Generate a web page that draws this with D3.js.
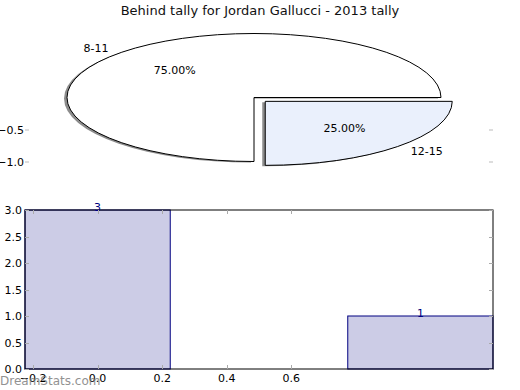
<!DOCTYPE html>
<html lang="en">
<head>
<meta charset="UTF-8">
<title>Behind tally</title>
<script src="https://cdnjs.cloudflare.com/ajax/libs/d3/7.8.5/d3.min.js"></script>
<style>
    body { margin: 0; background: #fff; }
    svg { display: block; font-family: "DejaVu Sans", sans-serif; }
</style>
</head>
<body>
<div id="wrap"></div>
<script>
    // data
    var title = 'Behind tally for Jordan Gallucci - 2013 tally';
    var pieLabels = ['8-11', '12-15'];
    var pieValues = [3, 1];
    var pieExplode = [0, 0.085];
    var pieColors = ['#ffffff', '#eaf0fc'];
    var pieYTicks = [-0.5, -1.0];

    var barX = [0, 1];
    var barValues = [3, 1];
    var xTicks = [-0.2, 0.0, 0.2, 0.4, 0.6];
    var yTicks = [0, 0.5, 1.0, 1.5, 2.0, 2.5, 3.0];

    var W = 520, H = 390;
    var svg = d3.select('#wrap').append('svg').attr('width', W).attr('height', H);
    var fmtMinus = function(v, f) { return d3.format(f)(v).replace('-', '\u2212'); };

    // title
    svg.append('text').attr('x', 260).attr('y', 15).attr('text-anchor', 'middle')
        .attr('font-size', 13).attr('fill', '#111').text(title);

    // ---- pie (squashed) ----
    var cx = 254, cy = 97.5;
    var px = d3.scaleLinear().domain([-1, 1]).range([cx - 187, cx + 187]);
    var py = d3.scaleLinear().domain([-1, 1]).range([cy + 64, cy - 64]);

    var pie = d3.pie().sort(null).startAngle(Math.PI / 2).endAngle(Math.PI / 2 - 2 * Math.PI);
    var arcs = pie(pieValues);
    var arc = d3.arc().innerRadius(0).outerRadius(1);
    var total = d3.sum(pieValues);

    var gPie = svg.append('g');
    // shadow first
    arcs.forEach(function(a, i) {
        var mid = (a.startAngle + a.endAngle) / 2;
        var ex = Math.sin(mid) * pieExplode[i], ey = Math.cos(mid) * pieExplode[i];
        gPie.append('path')
            .attr('d', arc(a))
            .attr('transform', 'translate(' + (px(ex) - 3) + ',' + (py(ey) + 1) + ') scale(187,64)')
            .attr('fill', '#7f7f7f').attr('opacity', 0.9);
    });
    arcs.forEach(function(a, i) {
        var mid = (a.startAngle + a.endAngle) / 2;
        var ex = Math.sin(mid) * pieExplode[i], ey = Math.cos(mid) * pieExplode[i];
        gPie.append('path')
            .attr('d', arc(a))
            .attr('transform', 'translate(' + px(ex) + ',' + py(ey) + ') scale(187,64)')
            .attr('fill', pieColors[i]).attr('stroke', '#000').attr('stroke-width', 1)
            .attr('vector-effect', 'non-scaling-stroke');
        var lx = ex + 1.1 * Math.sin(mid), ly = ey + 1.1 * Math.cos(mid);
        gPie.append('text').attr('x', px(lx)).attr('y', py(ly) + 4)
            .attr('text-anchor', lx < 0 ? 'end' : 'start')
            .attr('font-size', 11).attr('fill', '#000').text(pieLabels[i]);
        var tx = ex + 0.6 * Math.sin(mid), ty = ey + 0.6 * Math.cos(mid);
        gPie.append('text').attr('x', px(tx)).attr('y', py(ty) + 4)
            .attr('text-anchor', 'middle')
            .attr('font-size', 11).attr('fill', '#000')
            .text(d3.format('.2f')(pieValues[i] / total * 100) + '%');
    });
    // pie axis ticks
    pieYTicks.forEach(function(t) {
        var y = py(t) + 0.5;
        svg.append('line').attr('x1', 25).attr('x2', 29).attr('y1', y).attr('y2', y).attr('stroke', '#bbb');
        svg.append('line').attr('x1', 489).attr('x2', 493).attr('y1', y).attr('y2', y).attr('stroke', '#bbb');
        svg.append('text').attr('x', 24).attr('y', y + 4).attr('text-anchor', 'end')
            .attr('font-size', 11).attr('fill', '#000').text(fmtMinus(t, '.1f'));
    });

    // ---- bar chart ----
    var L = 25, R = 493, T = 210, B = 369;
    var x = d3.scaleLinear().domain([-0.225, 1.225]).range([L, R]);
    var y = d3.scaleLinear().domain([0, 3]).range([B, T]);
    var bw = 0.45;
    var gBar = svg.append('g');

    gBar.selectAll('rect.bar').data(barValues).enter().append('rect')
        .attr('class', 'bar')
        .attr('x', function(d, i) { return x(barX[i] - bw / 2); })
        .attr('y', function(d) { return y(d); })
        .attr('width', function(d, i) { return x(barX[i] + bw / 2) - x(barX[i] - bw / 2); })
        .attr('height', function(d) { return y(0) - y(d); })
        .attr('fill', '#ccccE6').attr('stroke', '#000080').attr('stroke-width', 1);

    // frame
    gBar.append('rect').attr('x', L).attr('y', T).attr('width', R - L).attr('height', B - T)
        .attr('fill', 'none').attr('stroke', '#000').attr('stroke-width', 1);

    gBar.selectAll('text.val').data(barValues).enter().append('text')
        .attr('x', function(d, i) { return x(barX[i]); })
        .attr('y', function(d) { return y(d) + 0.5; })
        .attr('text-anchor', 'middle').attr('font-size', 11).attr('fill', '#000080')
        .text(function(d) { return d; });

    // ticks
    yTicks.forEach(function(t) {
        var yy = Math.round(y(t)) + 0.5;
        gBar.append('line').attr('x1', L).attr('x2', L + 4).attr('y1', yy).attr('y2', yy).attr('stroke', '#aaa');
        gBar.append('line').attr('x1', R - 4).attr('x2', R).attr('y1', yy).attr('y2', yy).attr('stroke', '#aaa');
        gBar.append('text').attr('x', 22).attr('y', y(t) + 4).attr('text-anchor', 'end')
            .attr('font-size', 11).attr('fill', '#000').text(d3.format('.1f')(t));
    });
    xTicks.forEach(function(t) {
        var xx = Math.round(x(t)) + 0.5;
        gBar.append('line').attr('x1', xx).attr('x2', xx).attr('y1', B).attr('y2', B - 4).attr('stroke', '#aaa');
        gBar.append('line').attr('x1', xx).attr('x2', xx).attr('y1', T).attr('y2', T + 4).attr('stroke', '#aaa');
        gBar.append('text').attr('x', x(t)).attr('y', 382).attr('text-anchor', 'middle')
            .attr('font-size', 11).attr('fill', '#000').text(fmtMinus(t, '.1f'));
    });

    // watermark
    svg.append('text').attr('x', 0).attr('y', 385).attr('font-size', 12)
        .attr('fill', '#777').attr('opacity', 0.8).text('DreamStats.com');
</script>
</body>
</html>
